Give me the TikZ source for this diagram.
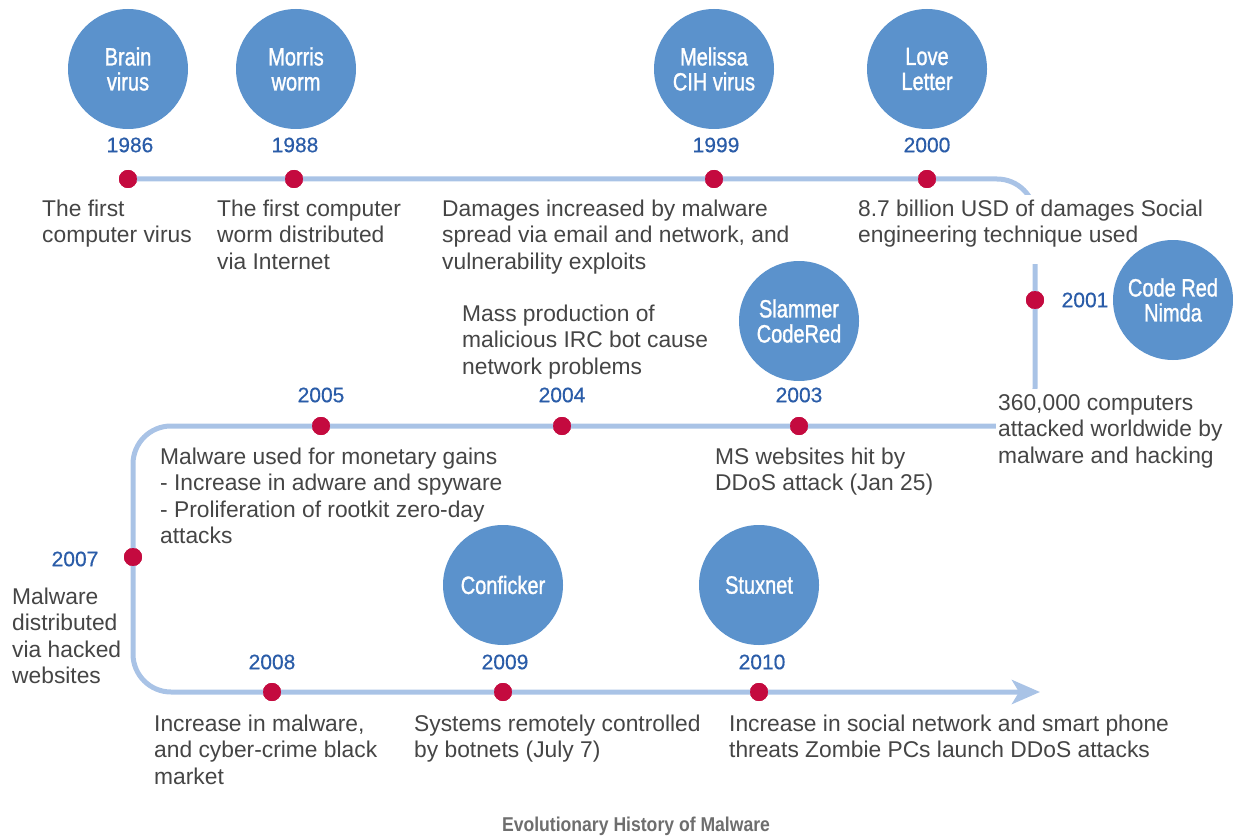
\documentclass[tikz,border=0pt]{standalone}
\usepackage{fontspec}
\setmainfont{Liberation Sans}
\newfontfamily\condfont[FakeStretch=0.80, FakeBold=1.2]{Liberation Sans}
\newfontfamily\capfont[FakeStretch=0.88]{Liberation Sans}
\newfontfamily\yearfont[FakeBold=0.5]{Liberation Sans}
\usetikzlibrary{arrows.meta}

\definecolor{bubbleblue}{HTML}{5B92CC}
\definecolor{lineblue}{HTML}{A9C3E6}
\definecolor{dotred}{HTML}{C40A3F}
\definecolor{yearblue}{HTML}{2A5CA8}
\definecolor{textgrey}{HTML}{454545}
\definecolor{capgrey}{HTML}{6E6E6E}

% left-aligned block whose baseline is that of its first line
\newcommand\desclines[1]{\begin{tabular}[t]{@{}l@{}}#1\end{tabular}}

\tikzset{
  bubble/.style={circle, fill=bubbleblue, minimum size=120pt, inner sep=0pt,
    text=white, align=center, font=\condfont\fontsize{25}{25}\selectfont},
  year/.style={text=yearblue, inner sep=0pt, font=\yearfont\fontsize{21}{25}\selectfont},
  dot/.style={circle, fill=dotred, draw=white, line width=2.5pt,
    minimum size=21pt, inner sep=0pt},
  desc/.style={anchor=base west, fill=white, inner sep=2pt, text=textgrey,
    font=\fontsize{22.8}{26.5}\selectfont},
  timeline/.style={draw=lineblue, line width=5pt, rounded corners=38pt},
}

\begin{document}
\begin{tikzpicture}[x=1pt, y=-1pt]
\useasboundingbox (0,0) rectangle (1233,837);

% milestone dots (placed first so the timeline can run through them)
\node[dot] (d86) at (128,179) {};
\node[dot] (d88) at (294,179) {};
\node[dot] (d99) at (714,179) {};
\node[dot] (d00) at (927,179) {};
\node[dot] (d01) at (1035,300) {};
\node[dot] (d03) at (799,426) {};
\node[dot] (d04) at (562,426) {};
\node[dot] (d05) at (321,426) {};
\node[dot] (d07) at (133,557) {};
\node[dot] (d08) at (272,692) {};
\node[dot] (d09) at (503,692) {};
\node[dot] (d10) at (759,692) {};
\coordinate (arrowend) at (1040,692);

% the winding timeline
\draw[timeline, -{Stealth[length=28pt, width=24pt, inset=7pt]}]
  (d86.center) -- (1035,179) -- (1035,426) -- (133,426) -- (133,692)
  -- (arrowend);

% event descriptions (white backing hides the line where text crosses it)
\node[desc] (t86) at (40,216) {\desclines{The first\\computer virus}};
\node[desc] (t88) at (215,216) {\desclines{The first computer\\worm distributed\\via Internet}};
\node[desc] (t99) at (440,216) {\desclines{Damages increased by malware\\spread via email and network, and\\vulnerability exploits}};
\node[desc, text depth=46pt] (t00) at (856,216) {\desclines{8.7 billion USD of damages Social\\engineering technique used}};
\node[desc] (t04) at (460,321) {\desclines{Mass production of\\malicious IRC bot cause\\network problems}};
\node[desc] (t01) at (996,410) {\desclines{360,000 computers\\attacked worldwide by\\malware and hacking}};
\node[desc] (t05) at (158,464) {\desclines{Malware used for monetary gains\\- Increase in adware and spyware\\- Proliferation of rootkit zero-day\\attacks}};
\node[desc] (t03) at (713,464) {\desclines{MS websites hit by\\DDoS attack (Jan 25)}};
\node[desc] (t07) at (10,604) {\desclines{Malware\\distributed\\via hacked\\websites}};
\node[desc] (t08) at (152,731) {\desclines{Increase in malware,\\and cyber-crime black\\market}};
\node[desc] (t09) at (412,731) {\desclines{Systems remotely controlled\\by botnets (July 7)}};
\node[desc] (t10) at (727,731) {\desclines{Increase in social network and smart phone\\threats Zombie PCs launch DDoS attacks}};

% redraw dots above the text backings
\foreach \d in {d86,d88,d99,d00,d01,d03,d04,d05,d07,d08,d09,d10}
  \fill[dotred] (\d) circle (9pt);

% years
\node[year] (y86) at (130,145) {1986};
\node[year] (y88) at (295,145) {1988};
\node[year] (y99) at (716,145) {1999};
\node[year] (y00) at (927,145) {2000};
\node[year] (y01) at (1085,300) {2001};
\node[year] (y05) at (321,395) {2005};
\node[year] (y04) at (562,395) {2004};
\node[year] (y03) at (799,395) {2003};
\node[year] (y07) at (75,559) {2007};
\node[year] (y08) at (272,662) {2008};
\node[year] (y09) at (505,662) {2009};
\node[year] (y10) at (762,662) {2010};

% malware bubbles
\node[bubble] (b86) at (128,69) {Brain\\virus};
\node[bubble] (b88) at (296,69) {Morris\\worm};
\node[bubble] (b99) at (714,69) {Melissa\\CIH virus};
\node[bubble] (b00) at (927,69) {Love\\Letter};
\node[bubble] (b01) at (1173,300) {Code Red\\Nimda};
\node[bubble] (b03) at (799,321) {Slammer\\CodeRed};
\node[bubble] (b09) at (503,585) {Conficker};
\node[bubble] (b10) at (759,585) {Stuxnet};

% caption
\node[text=capgrey, font=\capfont\bfseries\fontsize{20}{22}\selectfont] (cap)
  at (636,826) {Evolutionary History of Malware};
\end{tikzpicture}
\end{document}
